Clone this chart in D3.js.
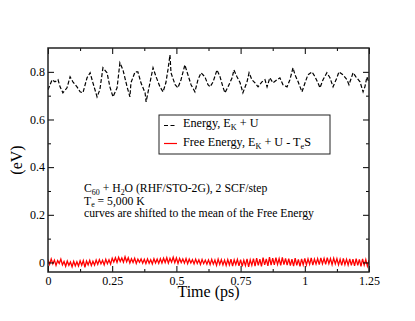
<!DOCTYPE html>
<html>
<head>
<meta charset="utf-8">
<script src="https://cdn.jsdelivr.net/npm/d3@7"></script>
<style>
body { margin: 0; background: #fff; }
text { font-family: "Liberation Serif", "Times New Roman", serif; fill: #000; }
</style>
</head>
<body>
<svg id="chart" width="415" height="321"></svg>
<script>
// Energy (E_K + U), shifted
let energyTime = [
  0.000, 0.016, 0.027, 0.039, 0.047, 0.058, 0.074, 0.086, 0.097, 0.113,
  0.125, 0.136, 0.152, 0.164, 0.175, 0.191, 0.202, 0.214, 0.230, 0.241,
  0.253, 0.269, 0.280, 0.292, 0.308, 0.319, 0.323, 0.339, 0.350, 0.362,
  0.378, 0.382, 0.397, 0.409, 0.421, 0.436, 0.448, 0.459, 0.467, 0.475,
  0.479, 0.495, 0.506, 0.518, 0.533, 0.545, 0.557, 0.572, 0.584, 0.596,
  0.611, 0.623, 0.631, 0.643, 0.658, 0.670, 0.681, 0.689, 0.701, 0.717,
  0.724, 0.736, 0.748, 0.759, 0.775, 0.783, 0.794, 0.806, 0.818, 0.833,
  0.845, 0.853, 0.864, 0.876, 0.892, 0.903, 0.915, 0.931, 0.942, 0.954,
  0.962, 0.974, 0.989, 1.001, 1.012, 1.028, 1.040, 1.051, 1.059, 1.071,
  1.086, 1.098, 1.110, 1.125, 1.133, 1.149, 1.164, 1.172, 1.188, 1.199,
  1.215, 1.227, 1.234, 1.242, 1.250
];
let energyValues = [
  0.725, 0.767, 0.758, 0.767, 0.737, 0.712, 0.733, 0.779, 0.758, 0.737,
  0.716, 0.712, 0.775, 0.796, 0.754, 0.695, 0.725, 0.817, 0.796, 0.737,
  0.695, 0.733, 0.838, 0.808, 0.737, 0.695, 0.754, 0.800, 0.800, 0.754,
  0.712, 0.674, 0.754, 0.817, 0.779, 0.737, 0.716, 0.754, 0.808, 0.871,
  0.796, 0.746, 0.733, 0.767, 0.829, 0.787, 0.746, 0.716, 0.767, 0.796,
  0.779, 0.746, 0.737, 0.758, 0.808, 0.779, 0.737, 0.712, 0.737, 0.775,
  0.808, 0.779, 0.754, 0.712, 0.758, 0.796, 0.767, 0.754, 0.737, 0.758,
  0.767, 0.737, 0.775, 0.754, 0.767, 0.775, 0.746, 0.737, 0.767, 0.817,
  0.787, 0.758, 0.716, 0.754, 0.787, 0.800, 0.779, 0.754, 0.733, 0.767,
  0.796, 0.775, 0.737, 0.775, 0.800, 0.787, 0.767, 0.746, 0.796, 0.779,
  0.758, 0.716, 0.737, 0.779, 0.754
];

// Free energy (E_K + U - TeS), sampled every 0.00625 ps
let freeStep = 0.00625;
let freeValues = [
  0.012, -0.008, 0.015, -0.006, 0.010, -0.012, 0.008, -0.004, 0.014, -0.010,
  0.004, -0.016, 0.006, -0.012, 0.002, -0.018, 0.005, -0.014, 0.003, -0.015,
  0.007, -0.012, 0.008, -0.020, 0.006, -0.010, 0.009, -0.013, 0.005, -0.011,
  0.010, -0.008, 0.012, -0.006, 0.009, -0.010, 0.013, -0.005, 0.011, -0.007,
  0.018, 0.002, 0.020, 0.000, 0.022, 0.004, 0.019, 0.001, 0.024, 0.003,
  0.020, -0.002, 0.016, 0.000, 0.018, -0.004, 0.014, 0.001, 0.015, -0.003,
  0.013, -0.005, 0.015, -0.003, 0.012, -0.006, 0.016, -0.002, 0.014, -0.004,
  0.016, -0.002, 0.018, 0.000, 0.020, -0.003, 0.017, 0.001, 0.022, -0.001,
  0.019, -0.004, 0.017, 0.000, 0.015, -0.003, 0.016, -0.005, 0.014, -0.002,
  0.012, -0.006, 0.014, -0.004, 0.011, -0.008, 0.013, -0.005, 0.010, -0.007,
  0.011, -0.009, 0.013, -0.007, 0.010, -0.012, 0.014, -0.008, 0.012, -0.010,
  0.010, -0.012, 0.012, -0.010, 0.014, -0.015, 0.011, -0.009, 0.013, -0.014,
  0.012, -0.016, 0.010, -0.013, 0.015, -0.018, 0.011, -0.012, 0.016, -0.015,
  0.018, -0.012, 0.014, -0.016, 0.020, -0.010, 0.015, -0.014, 0.022, -0.011,
  0.018, -0.010, 0.020, -0.008, 0.016, -0.012, 0.021, -0.009, 0.017, -0.011,
  0.016, -0.013, 0.014, -0.015, 0.018, -0.012, 0.013, -0.016, 0.015, -0.010,
  0.017, -0.010, 0.015, -0.008, 0.019, -0.011, 0.014, -0.007, 0.016, -0.009,
  0.019, -0.006, 0.017, -0.008, 0.020, -0.005, 0.016, -0.009, 0.018, -0.006,
  0.016, -0.010, 0.014, -0.012, 0.017, -0.009, 0.013, -0.011, 0.015, -0.012,
  0.014, -0.014, 0.016, -0.012, 0.013, -0.016, 0.015, -0.011, 0.012, -0.015,
  0.010
];

let xTicks = [0, 0.25, 0.5, 0.75, 1, 1.25];
let xTickLabels = ["0", "0.25", "0.5", "0.75", "1", "1.25"];
let xMinorTicks = [0.125, 0.375, 0.625, 0.875, 1.125];
let yTicks = [0, 0.2, 0.4, 0.6, 0.8];
let yTickLabels = ["0", "0.2", "0.4", "0.6", "0.8"];
let yMinorTicks = [0.1, 0.3, 0.5, 0.7];

let margin = { left: 48, right: 46, top: 48, bottom: 49 };
let width = 415, height = 321;
let serif = '"Liberation Serif", "Times New Roman", serif';
let fontSize = { tick: 12, title: 16, legend: 12.2, note: 11.7 };

let svg = d3.select("#chart");

let x = d3.scaleLinear().domain([0, 1.25]).range([margin.left, width - margin.right]);
let y = d3.scaleLinear().domain([-0.04, 0.9]).range([height - margin.bottom, margin.top]);

let plotBottom = y(-0.04), plotTop = y(0.9), plotLeft = x(0), plotRight = x(1.25);

svg.append("clipPath").attr("id", "plot-clip")
  .append("rect")
  .attr("x", plotLeft).attr("y", plotTop)
  .attr("width", plotRight - plotLeft).attr("height", plotBottom - plotTop);

let plot = svg.append("g").attr("clip-path", "url(#plot-clip)");

let energyData = energyTime.map((t, i) => ({ t: t, v: energyValues[i] }));
let freeData = freeValues.map((v, i) => ({ t: i * freeStep, v: v }));

let line = d3.line().x(d => x(d.t)).y(d => y(d.v));

plot.append("path")
  .datum(freeData)
  .attr("d", line)
  .attr("fill", "none")
  .attr("stroke", "#ff0000")
  .attr("stroke-width", 1.3);

plot.append("path")
  .datum(energyData)
  .attr("d", line)
  .attr("fill", "none")
  .attr("stroke", "#000")
  .attr("stroke-width", 1.2)
  .attr("stroke-dasharray", "4,2");

// axes, ticks pointing inward like xmgrace
function drawAxis(axis, tx, ty) {
  let g = svg.append("g").attr("transform", "translate(" + tx + "," + ty + ")").call(axis);
  g.attr("font-family", serif).attr("font-size", fontSize.tick);
  g.select(".domain").remove();
  g.selectAll("line").attr("stroke", "#000").attr("stroke-width", 1);
  g.selectAll("text")
    .style("font-family", serif)
    .style("font-size", fontSize.tick + "px");
  return g;
}

drawAxis(d3.axisBottom(x).tickValues(xTicks).tickSize(-6).tickPadding(4)
  .tickFormat((d, i) => xTickLabels[i]), 0, plotBottom);
drawAxis(d3.axisBottom(x).tickValues(xMinorTicks).tickSize(-3).tickFormat(""), 0, plotBottom);
drawAxis(d3.axisTop(x).tickValues(xTicks).tickSize(-6).tickFormat(""), 0, plotTop);
drawAxis(d3.axisTop(x).tickValues(xMinorTicks).tickSize(-3).tickFormat(""), 0, plotTop);

drawAxis(d3.axisLeft(y).tickValues(yTicks).tickSize(-6).tickPadding(3)
  .tickFormat((d, i) => yTickLabels[i]), plotLeft, 0);
drawAxis(d3.axisLeft(y).tickValues(yMinorTicks).tickSize(-3).tickFormat(""), plotLeft, 0);
drawAxis(d3.axisRight(y).tickValues(yTicks).tickSize(-6).tickFormat(""), plotRight, 0);
drawAxis(d3.axisRight(y).tickValues(yMinorTicks).tickSize(-3).tickFormat(""), plotRight, 0);

svg.append("rect")
  .attr("x", plotLeft).attr("y", plotTop)
  .attr("width", plotRight - plotLeft).attr("height", plotBottom - plotTop)
  .attr("fill", "none")
  .attr("stroke", "#222")
  .attr("stroke-width", 1.5);

// axis titles
svg.append("text")
  .text("Time (ps)")
  .attr("x", (plotLeft + plotRight) / 2)
  .attr("y", 297)
  .attr("text-anchor", "middle")
  .style("font-size", fontSize.title + "px");

svg.append("text")
  .text("(eV)")
  .attr("text-anchor", "middle")
  .attr("transform", "translate(22," + ((plotTop + plotBottom) / 2) + ") rotate(-90)")
  .style("font-size", fontSize.title + "px");

// helper for text with subscripts: parts = [[text, isSub, backUp], ...]
function richText(g, parts, tx, ty, size) {
  let t = g.append("text").attr("x", tx).attr("y", ty).style("font-size", size + "px");
  parts.forEach(function(p) {
    let span = t.append("tspan").text(p[0]);
    if (p[1]) {
      span.attr("dy", size * 0.25).style("font-size", (size * 0.68) + "px");
    } else if (p[2]) {
      span.attr("dy", -size * 0.25);
    }
  });
  return t;
}

// legend
let legend = svg.append("g");
legend.append("rect")
  .attr("x", 159).attr("y", 115).attr("width", 171).attr("height", 39)
  .attr("fill", "#fff").attr("stroke", "#222").attr("stroke-width", 1);

legend.append("line")
  .attr("x1", 164).attr("x2", 177).attr("y1", 125.5).attr("y2", 125.5)
  .attr("stroke", "#000").attr("stroke-width", 1.1).attr("stroke-dasharray", "4,2.5");
legend.append("line")
  .attr("x1", 164).attr("x2", 177).attr("y1", 143.5).attr("y2", 143.5)
  .attr("stroke", "#ff0000").attr("stroke-width", 1.2);

richText(legend, [["Energy, E"], ["K", true], [" + U", false, true]], 183, 127, fontSize.legend);
richText(legend, [["Free Energy, E"], ["K", true], [" + U - T", false, true], ["e", true], ["S", false, true]], 183, 145.5, fontSize.legend);

// notes
let notes = svg.append("g");
richText(notes, [["C"], ["60", true], [" + H", false, true], ["2", true], ["O (RHF/STO-2G), 2 SCF/step", false, true]], 84, 192, fontSize.note);
richText(notes, [["T"], ["e", true], [" = 5,000 K", false, true]], 84, 204.5, fontSize.note);
richText(notes, [["curves are shifted to the mean of the Free Energy"]], 84, 217, fontSize.note);
</script>
</body>
</html>
